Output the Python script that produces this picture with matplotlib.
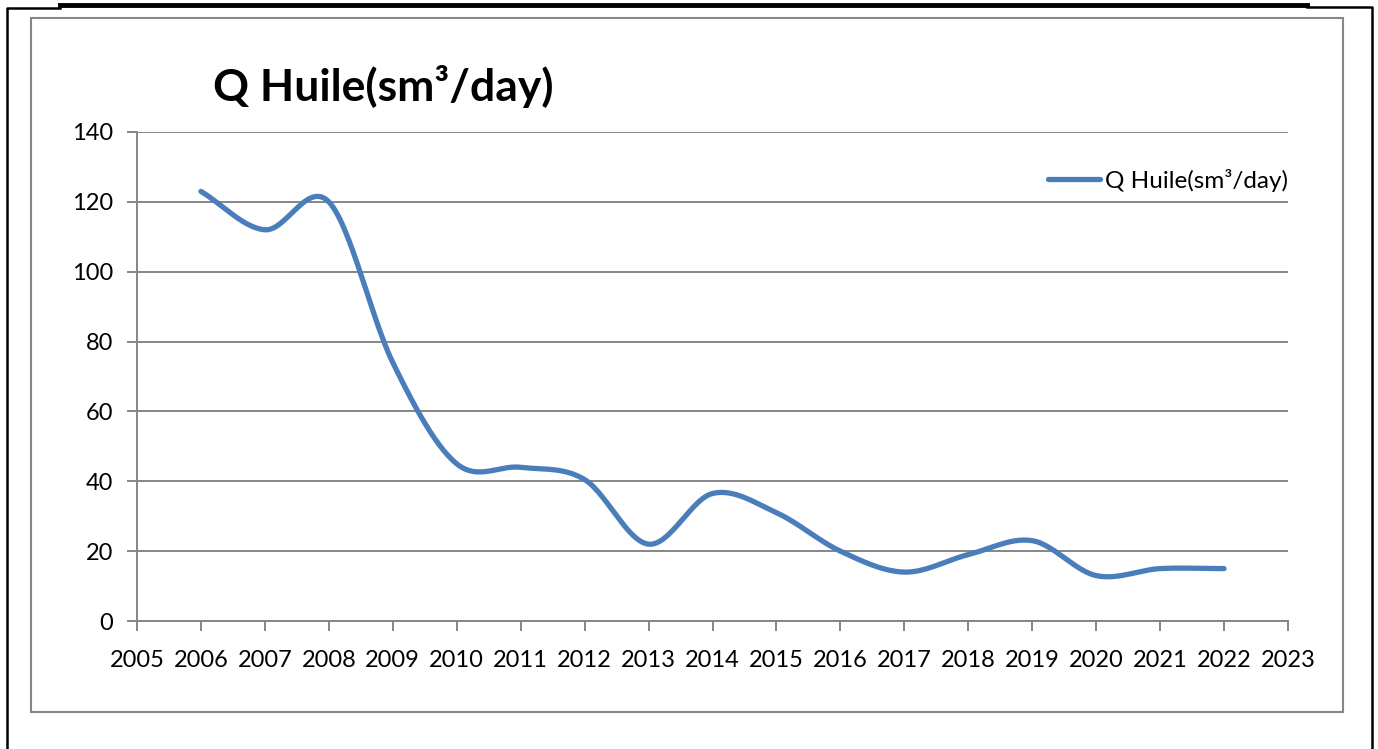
import matplotlib.pyplot as plt
import numpy as np
from matplotlib.lines import Line2D
from matplotlib.patches import Rectangle

years = [2006, 2007, 2008, 2009, 2010, 2011, 2012, 2013, 2014, 2015, 2016,
         2017, 2018, 2019, 2020, 2021, 2022]
q_huile = [123, 112, 120, 74, 45, 44, 40.5, 22, 36.5, 31, 20,
           14, 19, 23, 13, 15, 15]
x_ticks = list(range(2005, 2024))
y_ticks = [0, 20, 40, 60, 80, 100, 120, 140]
title = 'Q Huile(sm³/day)'

plt.rcParams['font.family'] = ['Lato', 'DejaVu Sans']

W, H = 1378, 749


def smooth(xs, ys, n=30):
    # excel-like smoothed line (catmull-rom through the points)
    xs = np.asarray(xs, float)
    ys = np.asarray(ys, float)
    px, py = [], []
    for i in range(len(xs) - 1):
        i0 = max(i - 1, 0)
        i3 = min(i + 2, len(xs) - 1)
        d1 = 2 if i > 0 else 1
        d2 = 2 if i + 1 < len(xs) - 1 else 1
        m1x = (xs[i + 1] - xs[i0]) / d1
        m1y = (ys[i + 1] - ys[i0]) / d1
        m2x = (xs[i3] - xs[i]) / d2
        m2y = (ys[i3] - ys[i]) / d2
        t = np.linspace(0, 1, n)
        h00 = 2 * t**3 - 3 * t**2 + 1
        h10 = t**3 - 2 * t**2 + t
        h01 = -2 * t**3 + 3 * t**2
        h11 = t**3 - t**2
        px.extend(h00 * xs[i] + h10 * m1x + h01 * xs[i + 1] + h11 * m2x)
        py.extend(h00 * ys[i] + h10 * m1y + h01 * ys[i + 1] + h11 * m2y)
    return px, py


fig = plt.figure(figsize=(W / 100, H / 100), dpi=100)
ax = fig.add_axes([137 / W, 1 - 621 / H, (1288 - 137) / W, (621 - 132) / H])

grey = '#868686'
sx, sy = smooth(years, q_huile)
ax.plot(sx, sy, color='#4A7EBB', lw=3.8, solid_capstyle='round',
        label=title, zorder=3)

ax.set_xlim(2005, 2023)
ax.set_ylim(0, 140)
ax.set_xticks(x_ticks)
ax.set_yticks(y_ticks)
ax.tick_params(axis='both', colors=grey, labelcolor='black', labelsize=17,
               direction='out', length=7, width=1.4)
ax.tick_params(axis='x', pad=14)
ax.tick_params(axis='y', pad=10)
ax.grid(axis='y', color=grey, lw=1.4)
ax.set_axisbelow(True)
for s in ['top', 'right']:
    ax.spines[s].set_visible(False)
for s in ['left', 'bottom']:
    ax.spines[s].set_color(grey)
    ax.spines[s].set_linewidth(1.4)

ax.legend(loc='upper right', bbox_to_anchor=(1.0, 0.925), frameon=False,
          fontsize=17.5, handlelength=2.15, handletextpad=0.2, borderpad=0,
          borderaxespad=0)

fig.text(383 / W, 1 - 87 / H, title, fontsize=32, fontweight='bold',
         ha='center', va='center')

# chart frame and page border
fig.add_artist(Rectangle((31 / W, 1 - 712 / H), (1343 - 31) / W, (712 - 18) / H,
                         transform=fig.transFigure, fill=False,
                         edgecolor=grey, lw=1.5))
fig.add_artist(Line2D([7 / W, 7 / W, 60 / W], [0, 1 - 8 / H, 1 - 8 / H],
                      transform=fig.transFigure, color='black', lw=1.8))
fig.add_artist(Line2D([60 / W, 1307 / W], [1 - 5 / H, 1 - 5 / H],
                      transform=fig.transFigure, color='black', lw=3.5))
fig.add_artist(Line2D([1307 / W, 1372 / W, 1372 / W], [1 - 7 / H, 1 - 7 / H, 0],
                      transform=fig.transFigure, color='black', lw=1.8))

fig.savefig('out.png', dpi=100)
